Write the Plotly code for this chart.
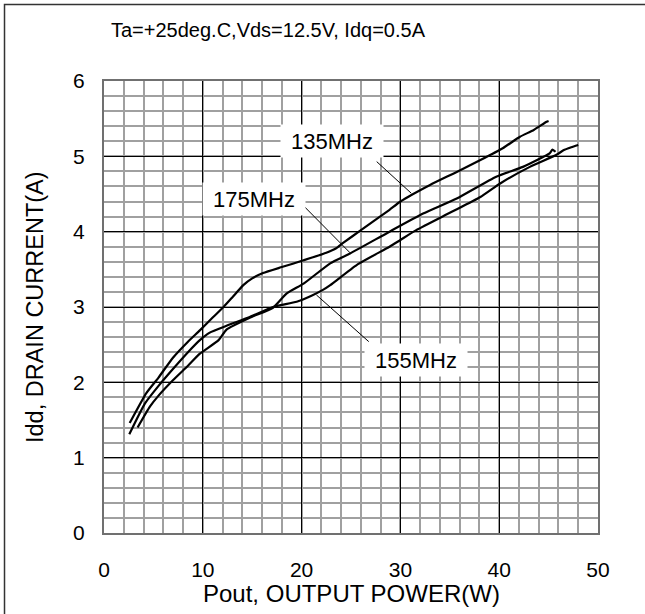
import plotly.graph_objects as go

# ---- data ----
x135 = [2.6, 4.3, 5.5, 7.0, 8.5, 9.7, 11.0, 12.1, 13.0, 14.1, 15.0, 16.1, 18.0, 20.2, 22.5, 23.5,
        24.2, 25.9, 28.9, 30.0, 33.0, 35.5, 38.1, 40.4, 42.1, 43.5, 44.8, 45.0]
y135 = [1.46, 1.86, 2.06, 2.33, 2.54, 2.69, 2.86, 3.00, 3.13, 3.29, 3.38, 3.45, 3.53, 3.62, 3.72, 3.78,
        3.85, 4.01, 4.29, 4.40, 4.62, 4.78, 4.95, 5.11, 5.26, 5.35, 5.46, 5.47]

x175 = [3.4, 4.66, 5.5, 7.0, 8.5, 9.7, 11.6, 12.4, 14.8, 17.1, 18.5, 20.2, 22.9, 24.9, 28.9, 32.3, 35.7,
        39.7, 42.4, 45.1, 45.4, 45.7]
y175 = [1.40, 1.68, 1.82, 2.03, 2.22, 2.38, 2.56, 2.70, 2.86, 2.99, 3.18, 3.31, 3.58, 3.71, 4.00, 4.24, 4.44,
        4.73, 4.86, 5.04, 5.09, 5.06]

x155 = [2.56, 4.15, 5.5, 7.0, 8.5, 9.7, 10.7, 12.4, 14.8, 17.1, 19.5, 21.0, 22.2, 22.9, 25.6, 28.9,
        30.0, 31.6, 35.0, 38.1, 40.1, 43.1, 45.8, 46.5, 47.3, 48.0]
y155 = [1.31, 1.72, 1.95, 2.18, 2.40, 2.56, 2.66, 2.75, 2.87, 3.00, 3.07, 3.15, 3.23, 3.29, 3.56, 3.80,
        3.89, 4.02, 4.25, 4.46, 4.64, 4.86, 5.02, 5.08, 5.12, 5.15]

labels = ["135MHz", "175MHz", "155MHz"]
label_x = [23.1, 15.2, 31.6]
label_y = [5.21, 4.43, 2.29]
leader_x0 = [27.6, 20.3, 21.5]
leader_y0 = [4.93, 4.33, 3.16]
leader_x1 = [31.1, 24.9, 26.8]
leader_y1 = [4.51, 3.72, 2.54]

title_text = "Ta=+25deg.C,Vds=12.5V, Idq=0.5A"
x_title = "Pout, OUTPUT POWER(W)"
y_title = "Idd, DRAIN CURRENT(A)"
x_ticks = [0, 10, 20, 30, 40, 50]
y_ticks = [0, 1, 2, 3, 4, 5, 6]

FONT = "Liberation Sans, Arial, sans-serif"

fig = go.Figure()
for xs, ys in [(x135, y135), (x175, y175), (x155, y155)]:
    fig.add_trace(go.Scatter(x=xs, y=ys, mode="lines",
                             line=dict(color="black", width=2.2, shape="spline", smoothing=0.5),
                             showlegend=False, hoverinfo="skip"))

shapes = []
for a, b, c, d in zip(leader_x0, leader_y0, leader_x1, leader_y1):
    shapes.append(dict(type="line", xref="x", yref="y", x0=a, y0=b, x1=c, y1=d,
                       line=dict(color="black", width=1), layer="above"))
# outer frame
shapes.append(dict(type="rect", xref="paper", yref="paper", x0=-0.2014, y0=-0.25, x1=1.2, y1=1.1692,
                   line=dict(color="#333333", width=1.5), layer="above"))

annotations = []
for t, lx, ly in zip(labels, label_x, label_y):
    annotations.append(dict(text=t, x=lx, y=ly, xref="x", yref="y", showarrow=False,
                            font=dict(family=FONT, size=22, color="black"),
                            bgcolor="white", width=102, height=32, borderpad=0))
annotations.append(dict(text=title_text, xref="paper", yref="paper", x=0.0101, y=1.113,
                        xanchor="left", yanchor="middle", showarrow=False,
                        font=dict(family=FONT, size=20, color="black")))
annotations.append(dict(text=x_title, xref="paper", yref="paper", x=0.5, y=-0.134,
                        xanchor="center", yanchor="middle", showarrow=False,
                        font=dict(family=FONT, size=24, color="black")))
annotations.append(dict(text=y_title, xref="paper", yref="paper", x=-0.1397, y=0.5,
                        xanchor="center", yanchor="middle", showarrow=False, textangle=-90,
                        font=dict(family=FONT, size=23.5, color="black")))

fig.update_layout(
    width=645, height=614,
    margin=dict(l=104, r=47, t=81, b=81),
    paper_bgcolor="white", plot_bgcolor="white",
    font=dict(family=FONT, size=21, color="black"),
    shapes=shapes, annotations=annotations,
    xaxis=dict(range=[0, 50], tickvals=x_ticks, ticktext=[str(v) for v in x_ticks],
               showgrid=True, gridcolor="black", gridwidth=1,
               minor=dict(dtick=2, showgrid=True, gridcolor="#a0a0a0", gridwidth=1.5),
               showline=True, mirror=True, linecolor="#707070", linewidth=2,
               zeroline=False, ticks="", ticklabelstandoff=17),
    yaxis=dict(range=[0, 6], tickvals=y_ticks, ticktext=[str(v) for v in y_ticks],
               showgrid=True, gridcolor="black", gridwidth=1,
               minor=dict(dtick=0.2, showgrid=True, gridcolor="#a0a0a0", gridwidth=1.5),
               showline=True, mirror=True, linecolor="#707070", linewidth=2,
               zeroline=False, ticks="", ticklabelstandoff=13),
)

fig.write_html("out.html")
